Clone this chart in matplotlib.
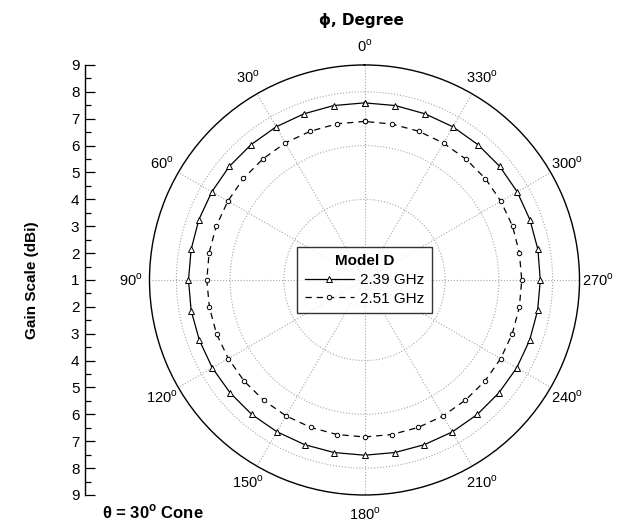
import matplotlib
matplotlib.use("Agg")
import matplotlib.pyplot as plt
import numpy as np

plt.rcParams['font.family'] = ['Liberation Sans', 'DejaVu Sans']
plt.rcParams['mathtext.fontset'] = 'custom'
plt.rcParams['mathtext.rm'] = 'Liberation Sans'
plt.rcParams['mathtext.bf'] = 'Liberation Sans:bold'

# phi angles (degrees), one point every 10 degrees
phi_deg = list(range(0, 360, 10))

# gain readings (dBi) for the two frequencies
gain_239 = [7.59, 7.59, 7.58, 7.58, 7.57, 7.57, 7.56, 7.56, 7.55, 7.55, 7.55, 7.54,
            7.54, 7.53, 7.53, 7.52, 7.52, 7.52, 7.52, 7.52, 7.52, 7.53, 7.53, 7.53,
            7.54, 7.54, 7.54, 7.54, 7.55, 7.55, 7.56, 7.57, 7.57, 7.58, 7.58, 7.59]
gain_251 = [6.90, 6.90, 6.89, 6.89, 6.88, 6.88, 6.87, 6.87, 6.87, 6.87, 6.86, 6.86,
            6.85, 6.85, 6.84, 6.84, 6.84, 6.84, 6.84, 6.84, 6.84, 6.84, 6.84, 6.85,
            6.85, 6.85, 6.85, 6.85, 6.85, 6.86, 6.86, 6.87, 6.87, 6.88, 6.89, 6.89]

angle_labels = [0, 30, 60, 90, 120, 150, 180, 210, 240, 270, 300, 330]
gain_ticks = list(range(-8, 9))  # mirrored scale, label = |v| + 1

r_min, r_max = 1, 9


def closed(vals):
    return np.append(vals, vals[0])


fig = plt.figure(figsize=(6.4, 5.29), dpi=100)

# polar plot
ax = fig.add_axes([0.2336, 0.0643, 0.6719, 0.8129], projection='polar')
ax.set_theta_zero_location('N')
ax.set_theta_direction(1)
ax.set_ylim(r_min, r_max)

theta = np.deg2rad(closed(phi_deg))
ax.plot(theta, closed(gain_239), '-', color='black', lw=0.9,
        marker='^', markersize=5, markerfacecolor='white', markeredgewidth=0.7,
        label='2.39 GHz')
ax.plot(theta, closed(gain_251), '--', color='black', lw=0.9, dashes=(5, 4),
        marker='o', markersize=3.2, markerfacecolor='white', markeredgewidth=0.7,
        label='2.51 GHz')

ax.set_xticks(np.deg2rad(angle_labels))
ax.set_xticks(np.deg2rad(np.arange(15, 360, 30)), minor=True)
ax.set_xticklabels([])
ax.set_yticks([2, 4, 6, 8])
ax.set_yticklabels([])
ax.tick_params(axis='x', which='major', direction='in', length=8, width=0.9, color='black')
ax.tick_params(axis='x', which='minor', direction='in', length=4, width=0.9, color='black')
ax.grid(True, linestyle=':', color='0.65', lw=0.8)
ax.spines['polar'].set_linewidth(1.0)
ax.spines['polar'].set_color('black')

for a in angle_labels:
    ax.text(np.deg2rad(a), r_max + 0.7, r'%d$^\mathrm{o}$' % a, ha='center', va='center',
            fontsize=10.5, clip_on=False)

leg = ax.legend(loc='center', bbox_to_anchor=(0.5, 0.5), title='Model D',
                frameon=True, fancybox=False, edgecolor='black', fontsize=11,
                handlelength=3.2, borderpad=0.5, labelspacing=0.3, handletextpad=0.4)
leg.get_title().set_fontweight('bold')
leg.get_title().set_fontsize(11)
leg.get_frame().set_linewidth(1.0)

# mirrored gain scale on the left
sax = fig.add_axes([0.1328, 0.0643, 0.0001, 0.8129])
sax.set_ylim(-8, 8)
sax.set_xticks([])
for s in ['top', 'right', 'bottom']:
    sax.spines[s].set_visible(False)
sax.spines['left'].set_linewidth(1.0)
sax.set_yticks(gain_ticks)
sax.set_yticklabels([str(abs(v) + 1) for v in gain_ticks])
sax.set_yticks(np.arange(-7.5, 8, 1), minor=True)
sax.tick_params(axis='y', which='major', direction='in', length=7, width=0.9, labelsize=11, pad=4)
sax.tick_params(axis='y', which='minor', direction='in', length=4, width=0.9)
sax.set_ylabel('Gain Scale (dBi)', fontsize=11, fontweight='bold', labelpad=23)

fig.text(361 / 640, 1 - 21 / 529, '\u03d5, Degree', ha='center', va='center',
         fontsize=11, fontweight='bold', family=['DejaVu Sans'])
fig.text(102 / 640, 1 - 512 / 529, '\u03b8 = 30$^\\mathbf{o}$ Cone', ha='left', va='center',
         fontsize=12, fontweight='bold')

fig.savefig('out.png', dpi=100)
